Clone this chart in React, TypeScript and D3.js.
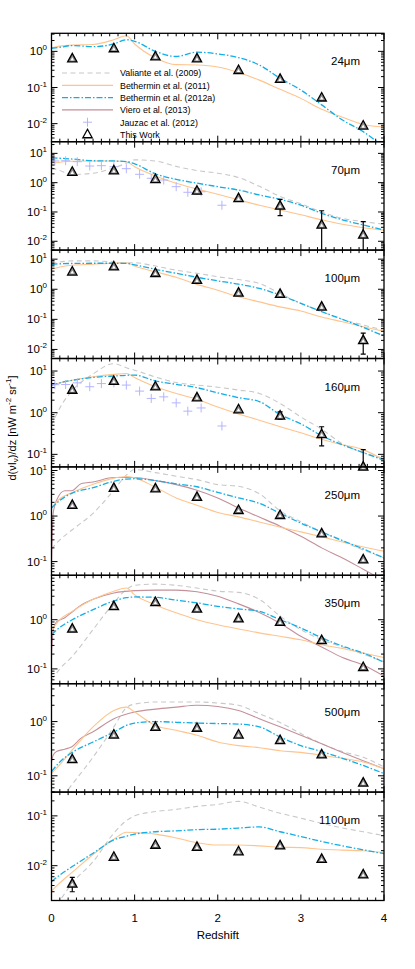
import React from 'react';
import * as d3 from 'd3';

// redshift grids
const zGrid = [0, 0.1, 0.25, 0.5, 0.75, 0.9, 1, 1.25, 1.5, 1.75, 2, 2.25, 2.5, 2.75, 3, 3.25, 3.5, 3.75, 4];
const zViero = [0, 0.02, 0.06, 0.16, 0.24, 0.36, 0.5, 0.75, 1, 1.25, 1.5, 1.75, 2, 2.25, 2.5, 2.75, 3, 3.25, 3.5, 3.75, 4];
const zThisWork = [0.25, 0.75, 1.25, 1.75, 2.25, 2.75, 3.25, 3.75];
const zJauzac = [0.04, 0.17, 0.31, 0.46, 0.6, 0.75, 0.9, 1.06, 1.2, 1.35, 1.5, 1.64, 1.8, 2.05];

const bands = ['24', '70', '100', '160', '250', '350', '500', '1100'];
const yDomains: [number, number][] = [
  [Math.pow(10, -2.5), Math.pow(10, 0.5)], [0.005, 25], [0.005, 20], [0.05, 20],
  [0.05, 12], [0.05, 8], [0.05, 5], [0.002, 0.3],
];

// Bethermin et al. (2011)
const beth11_24 = [1.26, 1.4, 1.5, 1.55, 2.1, 2.7, 1.6, 0.66, 0.43, 0.42, 0.37, 0.26, 0.16, 0.089, 0.05, 0.025, 0.015, 0.0095, 0.0081];
const beth11_70 = [4.6, 5.0, 5.4, 5.5, 5.5, 5.2, 3.5, 1.7, 0.95, 0.61, 0.4, 0.26, 0.17, 0.117, 0.08, 0.054, 0.038, 0.029, 0.024];
const beth11_100 = [4.6, 5.5, 6.3, 6.8, 7.4, 7.6, 5.9, 3.8, 2.5, 1.45, 0.93, 0.56, 0.38, 0.26, 0.19, 0.12, 0.083, 0.057, 0.04];
const beth11_160 = [4.5, 5.2, 6.0, 7.3, 8.3, 8.7, 7.0, 4.2, 2.9, 2.1, 1.37, 0.93, 0.66, 0.46, 0.33, 0.23, 0.17, 0.13, 0.072];
const beth11_250 = [1.5, 2.4, 3.3, 5.0, 6.8, 7.4, 6.9, 4.3, 2.5, 1.73, 1.2, 0.96, 0.74, 0.57, 0.45, 0.35, 0.27, 0.21, 0.17];
const beth11_350 = [0.6, 1.0, 1.48, 2.6, 3.8, 4.4, 3.2, 2.0, 1.38, 1.0, 0.79, 0.65, 0.54, 0.46, 0.39, 0.31, 0.26, 0.21, 0.17];
const beth11_500 = [0.11, 0.16, 0.3, 0.8, 1.6, 1.85, 1.5, 0.85, 0.69, 0.56, 0.42, 0.36, 0.33, 0.29, 0.27, 0.24, 0.21, 0.18, 0.135];
const beth11_1100 = [0.0031, 0.0045, 0.0074, 0.0168, 0.034, 0.047, 0.046, 0.043, 0.036, 0.029, 0.026, 0.026, 0.025, 0.0235, 0.023, 0.0213, 0.0205, 0.02, 0.0184];

// Bethermin et al. (2012a)
const beth12_24 = [1.22, 1.3, 1.45, 1.35, 1.6, 2.1, 1.9, 1.0, 0.72, 0.95, 0.85, 0.67, 0.42, 0.18, 0.085, 0.033, 0.0126, 0.006, 0.0022];
const beth12_70 = [7.1, 6.8, 6.4, 5.6, 5.5, 5.2, 4.4, 2.0, 1.3, 0.96, 0.73, 0.56, 0.38, 0.27, 0.17, 0.09, 0.054, 0.036, 0.024];
const beth12_100 = [6.7, 7.0, 7.2, 7.3, 7.3, 7.2, 6.5, 4.6, 3.4, 2.5, 1.9, 1.48, 1.07, 0.64, 0.34, 0.18, 0.1, 0.054, 0.028];
const beth12_160 = [4.6, 5.2, 6.0, 7.0, 7.6, 7.9, 8.0, 5.8, 4.8, 4.0, 3.0, 2.3, 1.85, 0.9, 0.54, 0.28, 0.17, 0.11, 0.072];
const beth12_250 = [1.5, 2.2, 3.2, 4.2, 5.8, 6.5, 6.6, 6.0, 5.1, 4.4, 3.3, 2.5, 1.9, 1.15, 0.7, 0.45, 0.29, 0.19, 0.12];
const beth12_350 = [0.5, 0.7, 1.0, 1.6, 2.4, 2.8, 2.9, 2.85, 2.5, 2.2, 1.87, 1.66, 1.48, 1.0, 0.68, 0.43, 0.29, 0.21, 0.136];
const beth12_500 = [0.12, 0.18, 0.27, 0.42, 0.64, 0.85, 0.94, 1.0, 0.97, 0.94, 0.92, 0.9, 0.8, 0.52, 0.36, 0.28, 0.21, 0.155, 0.11];
const beth12_1100 = [0.0048, 0.0065, 0.0096, 0.0178, 0.033, 0.039, 0.043, 0.048, 0.05, 0.053, 0.054, 0.057, 0.06, 0.048, 0.0385, 0.0306, 0.025, 0.0208, 0.0174];

// Valiante et al. (2009)
const val70 = [3.2, 2.6, 1.9, 2.1, 3.2, 4.6, 6.0, 5.5, 3.6, 2.6, 2.1, 1.5, 0.75, 0.34, 0.19, 0.1, 0.06, 0.047, 0.038];
const val100 = [7.0, 8.0, 8.8, 8.8, 8.0, 7.4, 7.6, 5.9, 4.3, 3.4, 2.6, 2.1, 1.56, 0.72, 0.34, 0.18, 0.1, 0.065, 0.044];
const val160 = [0.5, 1.3, 3.4, 8.5, 15, 12, 10.5, 7.2, 5.3, 4.6, 4.1, 3.5, 2.9, 1.66, 0.79, 0.4, 0.18, 0.11, 0.08];
const val250 = [0.19, 0.3, 0.5, 1.15, 3.7, 7.9, 10.5, 9.0, 7.5, 6.3, 4.9, 4.5, 3.1, 1.3, 0.75, 0.45, 0.28, 0.18, 0.12];
const val350 = [0.06, 0.1, 0.18, 0.63, 2.2, 4.1, 5.0, 5.3, 5.0, 4.4, 3.8, 3.6, 2.6, 1.18, 0.63, 0.39, 0.28, 0.2, 0.14];
const val500 = [0.025, 0.035, 0.07, 0.22, 0.8, 1.8, 2.1, 2.3, 2.3, 2.3, 2.2, 2.0, 1.4, 0.96, 0.6, 0.39, 0.28, 0.22, 0.145];
const val1100 = [0.0012, 0.002, 0.0045, 0.012, 0.045, 0.08, 0.1, 0.122, 0.135, 0.155, 0.17, 0.195, 0.15, 0.113, 0.09, 0.071, 0.057, 0.048, 0.04];

// Viero et al. (2013)
const viero250 = [0.09, 1.13, 2.2, 3.6, 3.6, 5.2, 5.6, 7.0, 7.0, 6.0, 4.9, 3.7, 2.5, 1.5, 0.95, 0.6, 0.36, 0.2, 0.12, 0.068, 0.038];
const viero350 = [0.21, 0.6, 0.9, 1.1, 1.4, 2.0, 2.6, 3.5, 3.9, 4.0, 4.0, 3.7, 3.0, 2.1, 1.4, 0.85, 0.46, 0.28, 0.17, 0.12, 0.071];
const viero500 = [0.18, 0.24, 0.28, 0.31, 0.34, 0.5, 0.65, 1.13, 1.5, 1.7, 1.85, 2.0, 1.9, 1.6, 1.13, 0.8, 0.56, 0.39, 0.27, 0.19, 0.135];

// Jauzac et al. (2012)
const jauzac70 = [5.5, 5.6, 5.2, 3.7, 3.8, 3.5, 3.0, 1.93, 1.41, 1.23, 0.73, 0.47, 0.49, 0.17];
const jauzac160 = [4.7, 4.75, 5.2, 4.2, 5.0, 5.2, 4.6, 3.3, 2.2, 2.4, 1.72, 1.09, 1.3, 0.48];

// This Work
const tw24 = [0.63, 1.2, 0.71, 0.63, 0.3, 0.17, 0.052, 0.0087];
const tw70 = [2.3, 2.57, 1.3, 0.52, 0.29, 0.16, 0.036, 0.0164];
const tw100 = [3.8, 5.6, 3.4, 2.0, 0.76, 0.69, 0.26, 0.02];
const tw160 = [3.5, 5.7, 4.2, 2.3, 1.19, 0.84, 0.3, 0.05];
const tw250 = [1.73, 4.1, 4.0, 2.6, 1.34, 1.04, 0.41, 0.11];
const tw350 = [0.65, 1.87, 2.26, 1.66, 1.05, 0.89, 0.38, 0.108];
const tw500 = [0.2, 0.57, 0.79, 0.76, 0.57, 0.45, 0.245, 0.074];
const tw1100 = [0.0043, 0.0149, 0.026, 0.0235, 0.0192, 0.0252, 0.0135, 0.0066];

type Err = [number, number] | null;
const err70: Err[] = [null, null, null, [0.42, 0.62], null, [0.075, 0.27], [1e-4, 0.11], [1e-4, 0.047]];
const err100: Err[] = [null, null, null, null, null, null, null, [0.007, 0.035]];
const err160: Err[] = [null, null, null, null, null, [0.7, 1.05], [0.16, 0.46], [1e-3, 0.13]];
const err1100: Err[] = [[0.003, 0.0058], null, null, null, null, null, null, null];

const C_VAL = '#c8c8c8';
const C_B11 = '#ffc48e';
const C_B12 = '#12aee6';
const C_VIE = '#c4909a';
const C_JAU = '#b4b4ff';
const FONT = 'Liberation Sans, Arial, Helvetica, sans-serif';

const panels = bands.map((b, i) => ({
  band: b,
  domain: yDomains[i],
  valiante: [null, val70, val100, val160, val250, val350, val500, val1100][i],
  beth11: [beth11_24, beth11_70, beth11_100, beth11_160, beth11_250, beth11_350, beth11_500, beth11_1100][i],
  beth12: [beth12_24, beth12_70, beth12_100, beth12_160, beth12_250, beth12_350, beth12_500, beth12_1100][i],
  viero: [null, null, null, null, viero250, viero350, viero500, null][i],
  jauzac: [null, jauzac70, null, jauzac160, null, null, null, null][i],
  tw: [tw24, tw70, tw100, tw160, tw250, tw350, tw500, tw1100][i],
  err: [null, err70, err100, err160, null, null, null, err1100][i] as Err[] | null,
}));

const left = 51.5;
const right = 384;
const top0 = 33.3;
const ph = 108.4;

const x = d3.scaleLinear().domain([0, 4]).range([left, right]);

const tri = (cx: number, cy: number, s: number) =>
  `M${cx},${cy - s * 0.62}L${cx + s * 0.55},${cy + s * 0.38}L${cx - s * 0.55},${cy + s * 0.38}Z`;

const Panel = ({ p, i }: { p: (typeof panels)[number]; i: number }) => {
  const t = top0 + i * ph;
  const b = t + ph;
  const y = d3.scaleLog().domain(p.domain).range([b, t]);
  const line = (zs: number[]) =>
    d3.line<number>().x((_, k) => x(zs[k])).y(v => y(v)).curve(d3.curveMonotoneX);
  const clipId = `clip${i}`;

  const lo = Math.floor(Math.log10(p.domain[0]));
  const hi = Math.ceil(Math.log10(p.domain[1]));
  const yTicks: { v: number; major: boolean; e: number }[] = [];
  for (let e = lo; e <= hi; e++) {
    for (let k = 1; k < 10; k++) {
      const v = k * Math.pow(10, e);
      if (v >= p.domain[0] * 0.999 && v <= p.domain[1] * 1.001) yTicks.push({ v, major: k === 1, e });
    }
  }
  const xTicks = d3.range(0, 41).map(k => ({ v: k / 10, major: k % 10 === 0 }));

  return (
    <g>
      <defs>
        <clipPath id={clipId}>
          <rect x={left} y={t} width={right - left} height={ph} />
        </clipPath>
      </defs>
      <g clipPath={`url(#${clipId})`} fill="none" strokeWidth={1.1}>
        {p.valiante && <path d={line(zGrid)(p.valiante) || ''} stroke={C_VAL} strokeDasharray="5,3.5" />}
        {p.viero && <path d={line(zViero)(p.viero) || ''} stroke={C_VIE} />}
        <path d={line(zGrid)(p.beth11) || ''} stroke={C_B11} />
        <path d={line(zGrid)(p.beth12) || ''} stroke={C_B12} strokeWidth={1.3} strokeDasharray="6,2,1.5,2" />
        {p.jauzac && p.jauzac.map((v, k) => (
          <g key={k} stroke={C_JAU} strokeWidth={1}>
            <line x1={x(zJauzac[k]) - 4.5} x2={x(zJauzac[k]) + 4.5} y1={y(v)} y2={y(v)} />
            <line x1={x(zJauzac[k])} x2={x(zJauzac[k])} y1={y(v) - 4.5} y2={y(v) + 4.5} />
          </g>
        ))}
        {p.err && p.err.map((e, k) => e && (
          <g key={k} stroke="#000" strokeWidth={1.2}>
            <line x1={x(zThisWork[k])} x2={x(zThisWork[k])} y1={y(e[0])} y2={y(e[1])} />
            <line x1={x(zThisWork[k]) - 2.5} x2={x(zThisWork[k]) + 2.5} y1={y(e[0])} y2={y(e[0])} />
            <line x1={x(zThisWork[k]) - 2.5} x2={x(zThisWork[k]) + 2.5} y1={y(e[1])} y2={y(e[1])} />
          </g>
        ))}
      </g>
      {p.tw.map((v, k) => (
        <g key={k}>
          <path d={tri(x(zThisWork[k]), y(v), 8.5)} fill="#8a8a8a" stroke="#000" strokeWidth={1.3} />
          <path d={tri(x(zThisWork[k]), y(v) + 0.6, 3.2)} fill="#fff" />
        </g>
      ))}
      <rect x={left} y={t} width={right - left} height={ph} fill="none" stroke="#000" strokeWidth={1.3} />
      {yTicks.map((tk, k) => (
        <g key={k} stroke="#000" strokeWidth={1}>
          <line x1={left} x2={left + (tk.major ? 6 : 3)} y1={y(tk.v)} y2={y(tk.v)} />
          <line x1={right} x2={right - (tk.major ? 6 : 3)} y1={y(tk.v)} y2={y(tk.v)} />
        </g>
      ))}
      {xTicks.map((tk, k) => (
        <g key={k} stroke="#000" strokeWidth={1}>
          <line x1={x(tk.v)} x2={x(tk.v)} y1={b} y2={b - (tk.major ? 6 : 3)} />
          <line x1={x(tk.v)} x2={x(tk.v)} y1={t} y2={t + (tk.major ? 6 : 3)} />
        </g>
      ))}
      {yTicks.filter(tk => tk.major).map((tk, k) => (
        <text key={k} x={47} y={y(tk.v) + 4} textAnchor="end" fontSize={11.5} fontFamily={FONT}>
          10<tspan fontSize={8} dy={-5}>{tk.e}</tspan>
        </text>
      ))}
      <text x={360} y={t + 32} textAnchor="end" fontSize={11.5} fontFamily={FONT}>
        {p.band}μm
      </text>
    </g>
  );
};

const legendItems = [
  { label: 'Valiante et al. (2009)', color: C_VAL, dash: '5,3.5', kind: 'line' },
  { label: 'Bethermin et al. (2011)', color: C_B11, dash: null, kind: 'line' },
  { label: 'Bethermin et al. (2012a)', color: C_B12, dash: '6,2,1.5,2', kind: 'line' },
  { label: 'Viero et al. (2013)', color: C_VIE, dash: null, kind: 'line' },
  { label: 'Jauzac et al. (2012)', color: C_JAU, dash: null, kind: 'plus' },
  { label: 'This Work', color: '#000', dash: null, kind: 'tri' },
];

const App = () => {
  const bottom = top0 + 8 * ph;
  return (
    <svg width={415} height={969} style={{ position: 'absolute', left: 0, top: 0, background: '#fff' }}>
      {panels.map((p, i) => <Panel key={p.band} p={p} i={i} />)}
      <g fontFamily={FONT} fontSize={8.9}>
        {legendItems.map((it, k) => {
          const ly = 73 + k * 12.3;
          return (
            <g key={k}>
              {it.kind === 'line' && (
                <line x1={62} x2={113} y1={ly} y2={ly} stroke={it.color} strokeWidth={1.2}
                  strokeDasharray={it.dash || undefined} />
              )}
              {it.kind === 'plus' && (
                <g stroke={it.color}>
                  <line x1={83} x2={92} y1={ly} y2={ly} />
                  <line x1={87.5} x2={87.5} y1={ly - 4.5} y2={ly + 4.5} />
                </g>
              )}
              {it.kind === 'tri' && <path d={tri(87.5, ly, 8.5)} fill="none" stroke="#000" strokeWidth={1.3} />}
              <text x={120} y={ly + 3.3}>{it.label}</text>
            </g>
          );
        })}
      </g>
      {x.ticks(4).map(v => (
        <text key={v} x={x(v)} y={bottom + 21.5} textAnchor="middle" fontSize={11.5} fontFamily={FONT}>{v}</text>
      ))}
      <text x={(left + right) / 2} y={bottom + 38} textAnchor="middle" fontSize={11.5} fontFamily={FONT}>Redshift</text>
      <text transform="translate(16,428) rotate(-90)" textAnchor="middle" fontSize={11} fontFamily={FONT}>
        d(νI<tspan fontSize={8} dy={2}>ν</tspan><tspan dy={-2}>)/dz [nW m</tspan>
        <tspan fontSize={8} dy={-5}>-2</tspan><tspan dy={5}> sr</tspan>
        <tspan fontSize={8} dy={-5}>-1</tspan><tspan dy={5}>]</tspan>
      </text>
    </svg>
  );
};

export default App;
